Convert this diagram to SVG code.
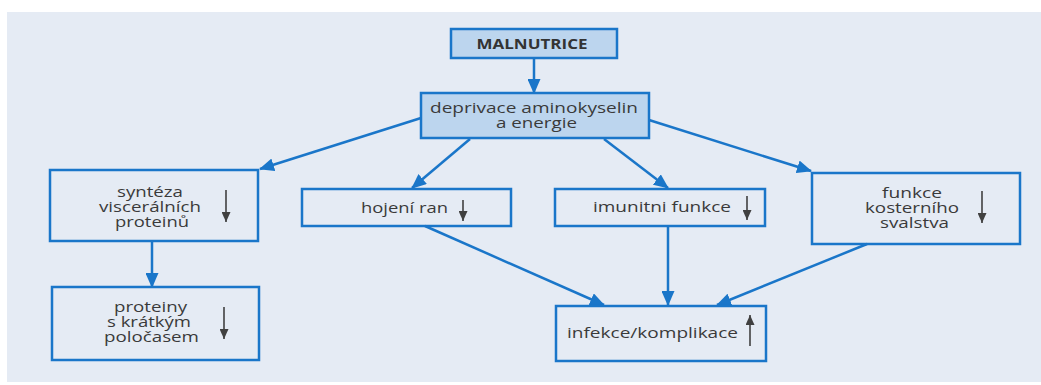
<svg xmlns="http://www.w3.org/2000/svg" width="1041" height="385" viewBox="0 0 1041 385">
<style>
.box{fill:none;stroke:#1a76c9;stroke-width:2.5}
.hbox{fill:#bcd5ee;stroke:#1a76c9;stroke-width:2.5}
.t{font-family:"Open Sans","Liberation Sans",sans-serif;font-size:14px;fill:#3a3a3a;text-anchor:middle}
.b{font-family:"Open Sans","Liberation Sans",sans-serif;font-size:14px;font-weight:bold;fill:#333;text-anchor:middle}
.c{stroke:#1a76c9;stroke-width:2.5;fill:none}
.g{stroke:#404040;stroke-width:1.6;fill:none}
</style>
<defs>
<marker id="ah" markerUnits="userSpaceOnUse" markerWidth="15" markerHeight="13" refX="14" refY="6.5" orient="auto">
<path d="M0,0 L15,6.5 L0,13 Z" fill="#1a76c9"/>
</marker>
<marker id="gh" markerUnits="userSpaceOnUse" markerWidth="10" markerHeight="9" refX="10" refY="4.5" orient="auto">
<path d="M0,0 L10,4.5 L0,9 Z" fill="#404040"/>
</marker>
</defs>
<rect x="0" y="0" width="1041" height="385" fill="#ffffff"/>
<rect x="7" y="12" width="1034" height="370" fill="#e5ebf4"/>
<g id="connectors">
<line class="c" x1="534" y1="58" x2="534" y2="93" marker-end="url(#ah)"/>
<line class="c" x1="421" y1="118" x2="260" y2="169" marker-end="url(#ah)"/>
<line class="c" x1="470" y1="139" x2="412" y2="188" marker-end="url(#ah)"/>
<line class="c" x1="604" y1="139" x2="668" y2="188" marker-end="url(#ah)"/>
<line class="c" x1="649" y1="120" x2="811" y2="171" marker-end="url(#ah)"/>
<line class="c" x1="152" y1="241" x2="152" y2="287" marker-end="url(#ah)"/>
<line class="c" x1="425" y1="226" x2="604" y2="305" marker-end="url(#ah)"/>
<line class="c" x1="668" y1="226" x2="668" y2="305" marker-end="url(#ah)"/>
<line class="c" x1="867" y1="244" x2="717" y2="305" marker-end="url(#ah)"/>
</g>
<g id="malnutrice">
<rect class="hbox" x="451" y="29" width="166" height="29"/>
<text class="b" x="532" y="48.5" textLength="111" lengthAdjust="spacingAndGlyphs">MALNUTRICE</text>
</g>
<g id="deprivace">
<rect class="hbox" x="421" y="93" width="228" height="45"/>
<text class="t"><tspan x="534" y="113" textLength="208" lengthAdjust="spacingAndGlyphs">deprivace aminokyselin</tspan><tspan x="536.5" y="128" textLength="81" lengthAdjust="spacingAndGlyphs">a energie</tspan></text>
</g>
<g id="synteza">
<rect class="box" x="50" y="170" width="208" height="71"/>
<text class="t"><tspan x="150" y="197" textLength="66" lengthAdjust="spacingAndGlyphs">syntéza</tspan><tspan x="150" y="212" textLength="102" lengthAdjust="spacingAndGlyphs">viscerálních</tspan><tspan x="152" y="227" textLength="74" lengthAdjust="spacingAndGlyphs">proteinů</tspan></text>
<line class="g" x1="226" y1="190" x2="226" y2="222" marker-end="url(#gh)"/>
</g>
<g id="proteiny">
<rect class="box" x="52" y="287" width="207" height="73"/>
<text class="t"><tspan x="150.5" y="312" textLength="73" lengthAdjust="spacingAndGlyphs">proteiny</tspan><tspan x="149" y="327" textLength="84" lengthAdjust="spacingAndGlyphs">s krátkým</tspan><tspan x="151.5" y="342" textLength="95" lengthAdjust="spacingAndGlyphs">poločasem</tspan></text>
<line class="g" x1="224" y1="307" x2="224" y2="339" marker-end="url(#gh)"/>
</g>
<g id="hojeni">
<rect class="box" x="302" y="189" width="209" height="37"/>
<text class="t" x="404.5" y="213" textLength="87" lengthAdjust="spacingAndGlyphs">hojení ran</text>
<line class="g" x1="463" y1="200" x2="463" y2="221" marker-end="url(#gh)"/>
</g>
<g id="imunitni">
<rect class="box" x="555" y="189" width="210" height="37"/>
<text class="t" x="662" y="212" textLength="138" lengthAdjust="spacingAndGlyphs">imunitni funkce</text>
<line class="g" x1="747" y1="196" x2="747" y2="220" marker-end="url(#gh)"/>
</g>
<g id="funkce">
<rect class="box" x="812" y="173" width="208" height="71"/>
<text class="t"><tspan x="912" y="198" textLength="60" lengthAdjust="spacingAndGlyphs">funkce</tspan><tspan x="912" y="213" textLength="94" lengthAdjust="spacingAndGlyphs">kosterního</tspan><tspan x="914.5" y="228" textLength="69" lengthAdjust="spacingAndGlyphs">svalstva</tspan></text>
<line class="g" x1="982" y1="191" x2="982" y2="223" marker-end="url(#gh)"/>
</g>
<g id="infekce">
<rect class="box" x="556" y="306" width="210" height="55"/>
<text class="t" x="652.5" y="338" textLength="171" lengthAdjust="spacingAndGlyphs">infekce/komplikace</text>
<line class="g" x1="750" y1="346" x2="750" y2="315" marker-end="url(#gh)"/>
</g>
</svg>
